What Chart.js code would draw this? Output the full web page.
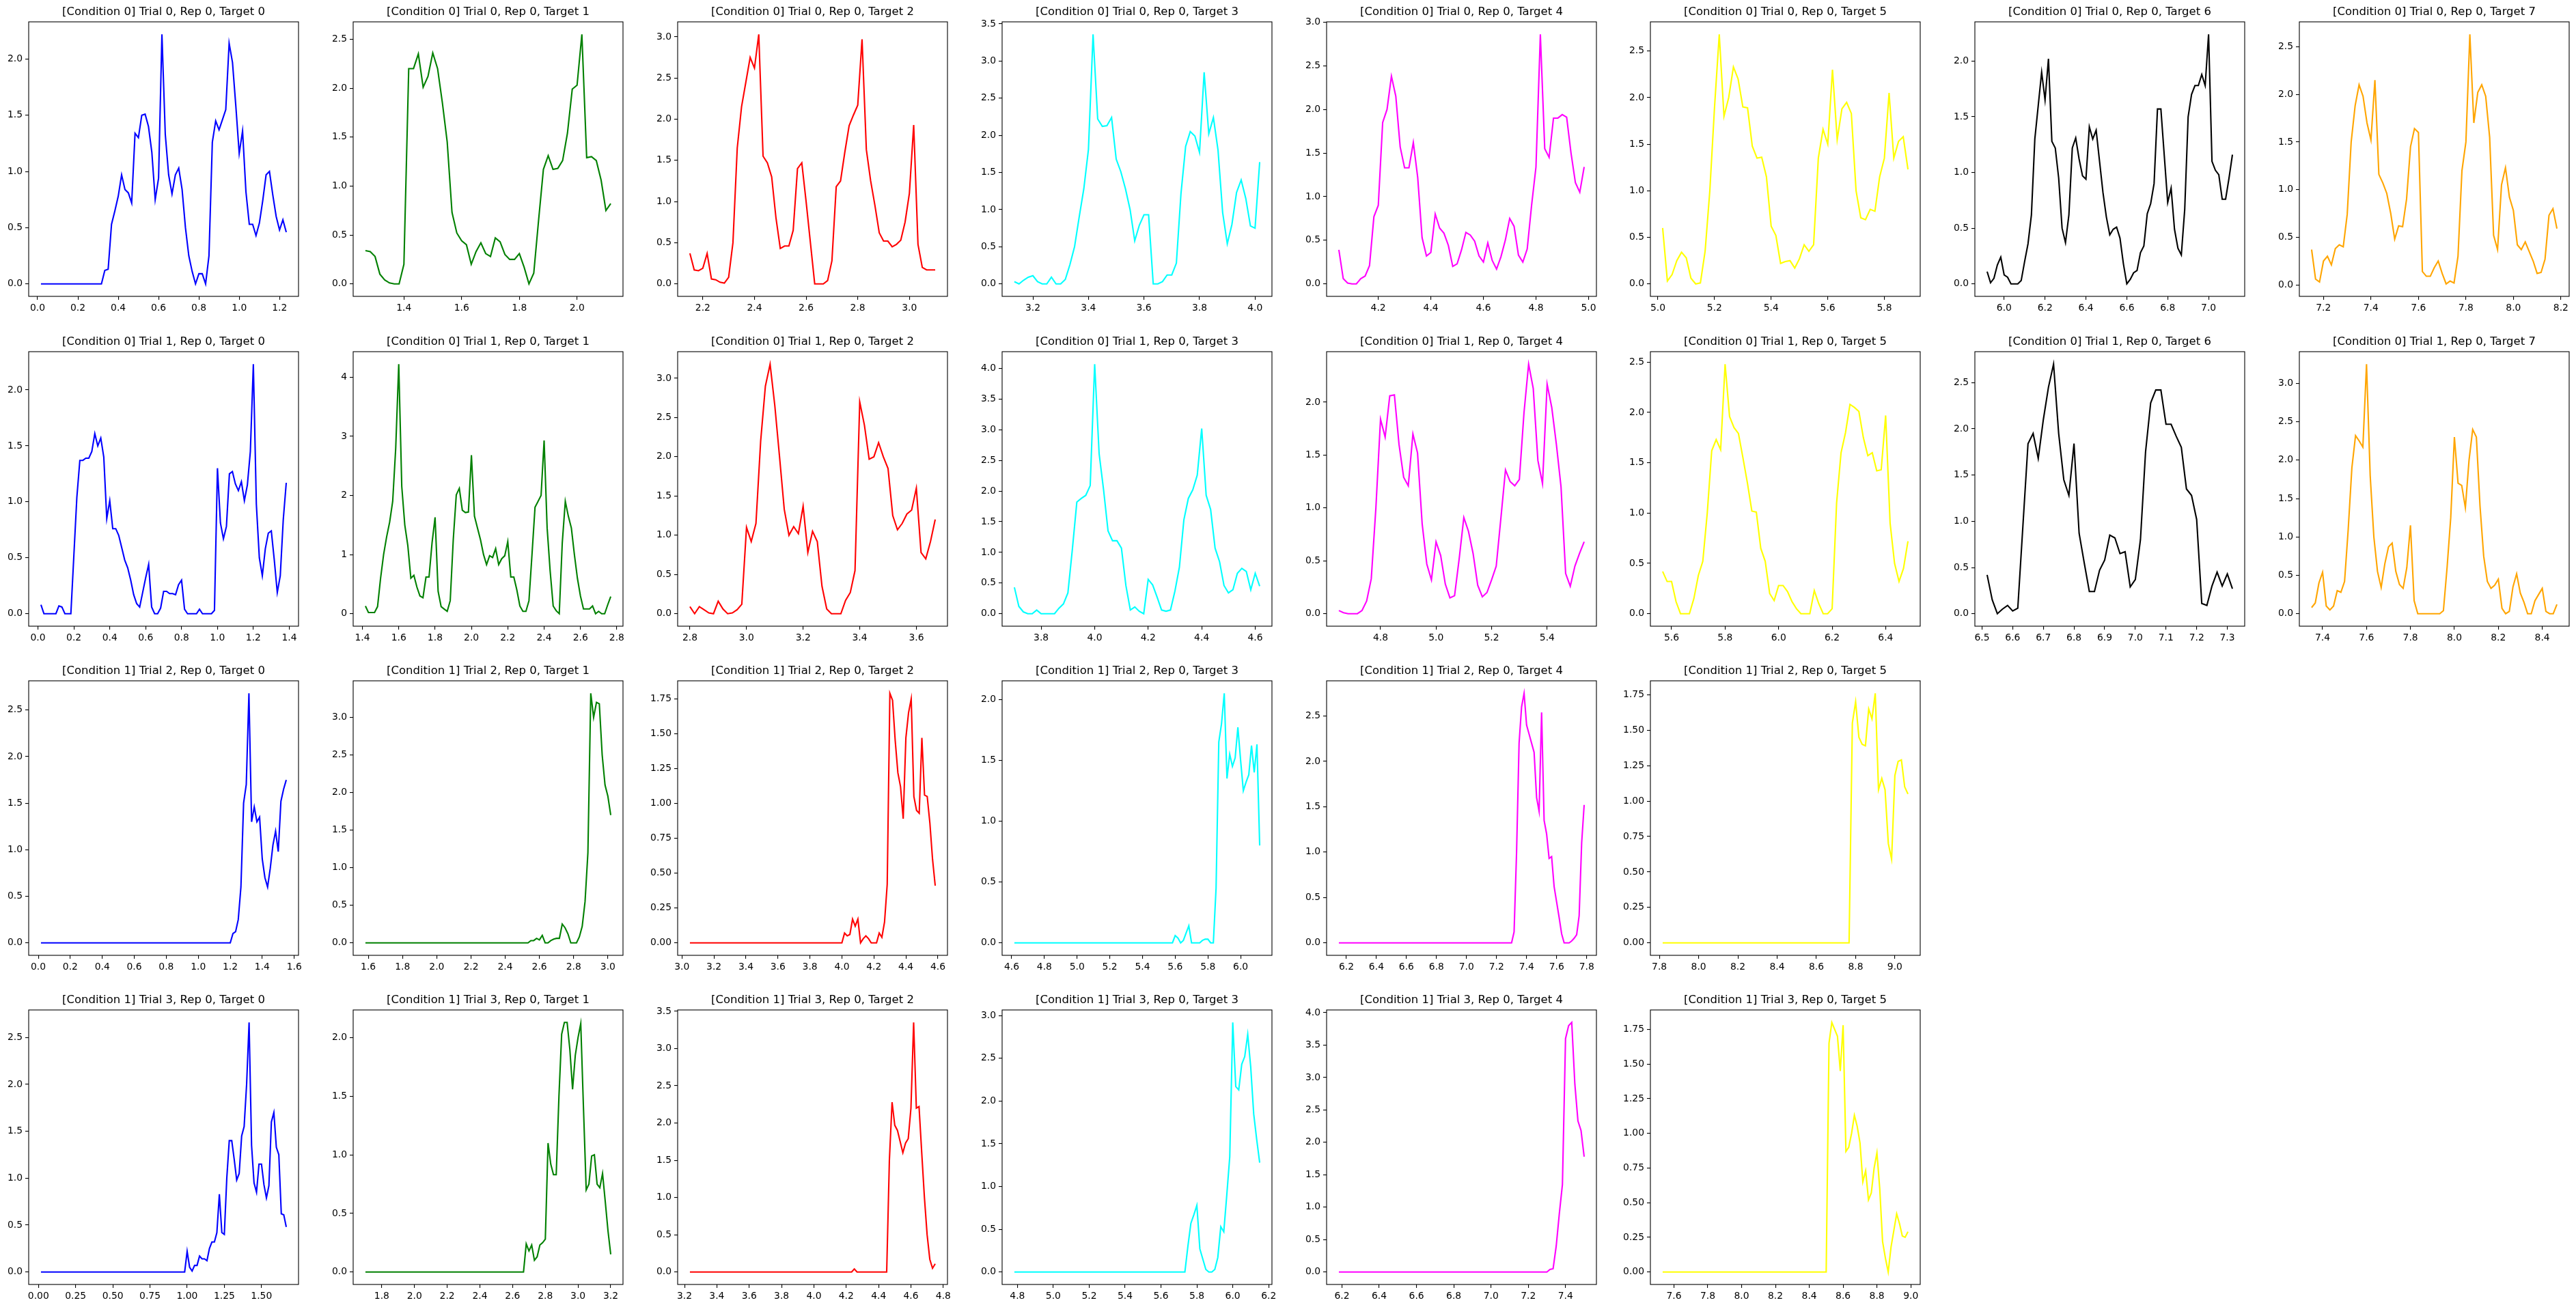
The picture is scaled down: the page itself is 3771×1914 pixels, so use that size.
<!DOCTYPE html>
<html>
<head>
<meta charset="utf-8">
<script src="https://cdn.jsdelivr.net/npm/chart.js@4.4.1/dist/chart.umd.min.js"></script>
<style>
html,body{margin:0;padding:0;background:#fff;}
#fig{position:relative;width:3771px;height:1914px;overflow:hidden;background:#fff;}
#fig canvas{position:absolute;}
</style>
</head>
<body>
<div id="fig"></div>
<script>
// samples are 1/60 s apart; each panel lists its first sample index and the values
const sampleRate = 60;
const conditions = [0, 0, 1, 1];
const trials = [0, 1, 2, 3];
const targetColors = ['#0000ff', '#008000', '#ff0000', '#00ffff', '#ff00ff', '#ffff00', '#000000', '#ffa500'];

const startSamples = [
  [1, 76, 129, 188, 243, 301, 355, 429],
  [1, 85, 168, 222, 279, 334, 391, 441],
  [1, 95, 183, 277, 369, 469],
  [1, 102, 194, 287, 371, 452]
];
const xSteps = [
  [0.2, 0.2, 0.2, 0.2, 0.2, 0.2, 0.2, 0.2],
  [0.2, 0.2, 0.2, 0.2, 0.2, 0.2, 0.1, 0.2],
  [0.2, 0.2, 0.2, 0.2, 0.2, 0.2],
  [0.25, 0.2, 0.2, 0.2, 0.2, 0.2]
];
const ySteps = [
  [0.5, 0.5, 0.5, 0.5, 0.5, 0.5, 0.5, 0.5],
  [0.5, 1, 0.5, 0.5, 0.5, 0.5, 0.5, 0.5],
  [0.5, 0.5, 0.25, 0.5, 0.5, 0.25],
  [0.5, 0.5, 0.5, 0.5, 0.5, 0.25]
];

const cond0Trial0 = [
  [0,0,0,0,0,0,0,0,0,0,0,0,0,0,0,0,0,0,0,
   .12,.13,.53,.65,.78,.97,.84,.81,.72,1.34,1.30,1.50,1.51,1.40,1.17,.75,.94,2.22,1.33,.97,
   .80,.97,1.03,.84,.50,.25,.11,0,.09,.09,0,.25,1.26,1.45,1.37,1.46,1.55,2.14,1.97,1.58,
   1.16,1.36,.82,.53,.53,.43,.54,.74,.97,1.00,.79,.60,.48,.57,.46],
  [.34,.33,.28,.10,.04,.01,0,0,.20,2.20,2.20,2.35,2.01,2.12,2.36,2.20,1.85,1.45,.73,.52,
   .44,.40,.20,.33,.42,.31,.28,.47,.43,.30,.25,.25,.31,.17,0,.11,.65,1.17,1.31,1.17,
   1.18,1.26,1.54,1.99,2.03,2.55,1.29,1.30,1.26,1.06,.75,.82],
  [.37,.17,.16,.19,.37,.06,.05,.02,.01,.08,.50,1.65,2.15,2.45,2.75,2.62,3.03,1.55,1.47,1.30,
   .80,.43,.46,.46,.65,1.40,1.47,1.00,.50,0,0,0,.04,.28,1.18,1.25,1.60,1.92,2.05,2.17,
   2.97,1.63,1.25,.95,.62,.52,.52,.45,.48,.53,.75,1.10,1.93,.48,.20,.17,.17,.17],
  [.03,0,.05,.09,.11,.03,0,0,.09,0,0,.06,.26,.50,.90,1.28,1.81,3.36,2.22,2.12,
   2.13,2.24,1.68,1.51,1.28,1.00,.58,.79,.93,.93,0,0,.03,.12,.12,.28,1.22,1.85,2.05,1.99,
   1.77,2.85,2.02,2.24,1.80,.96,.54,.80,1.23,1.40,1.15,.78,.75,1.64],
  [.39,.06,.01,0,0,.06,.09,.21,.77,.90,1.85,2.00,2.38,2.15,1.57,1.33,1.33,1.62,1.22,.53,
   .32,.36,.80,.64,.58,.44,.20,.23,.39,.59,.56,.49,.32,.25,.47,.27,.17,.31,.50,.75,
   .66,.33,.25,.40,.90,1.34,2.86,1.55,1.45,1.90,1.90,1.94,1.91,1.50,1.16,1.05,1.34],
  [.60,.03,.10,.25,.34,.28,.06,0,.01,.35,1.00,1.90,2.68,1.80,2.00,2.33,2.20,1.90,1.89,1.48,
   1.35,1.36,1.15,.62,.52,.22,.24,.25,.17,.27,.42,.35,.42,1.35,1.66,1.50,2.30,1.55,1.88,1.95,
   1.83,1.00,.71,.69,.80,.78,1.15,1.35,2.05,1.35,1.53,1.58,1.23],
  [.11,.01,.05,.17,.24,.08,.06,0,0,0,.03,.20,.36,.62,1.30,1.60,1.90,1.65,2.02,1.28,
   1.22,.95,.50,.37,.62,1.22,1.31,1.12,.97,.94,1.41,1.30,1.38,1.10,.82,.60,.44,.49,.51,.41,
   .18,0,.04,.10,.12,.28,.34,.63,.72,.90,1.57,1.57,1.15,.73,.86,.49,.32,.26,.67,1.50,
   1.70,1.78,1.78,1.88,1.78,2.24,1.10,1.02,.98,.76,.76,.95,1.16],
  [.37,.06,.03,.25,.30,.21,.38,.42,.40,.74,1.50,1.88,2.10,1.98,1.70,1.52,2.15,1.16,1.07,.96,
   .75,.48,.62,.61,.90,1.45,1.64,1.60,.14,.09,.09,.18,.25,.12,.01,.04,.02,.30,1.20,1.50,
   2.63,1.70,2.02,2.10,1.98,1.55,.52,.37,1.05,1.23,.92,.78,.42,.37,.45,.35,.25,.12,.13,.27,
   .73,.80,.59]
];

const cond0Trial1 = [
  [.08,0,0,0,0,0,.07,.06,0,0,0,.52,1.04,1.37,1.37,1.39,1.39,1.45,1.61,1.50,
   1.57,1.40,.85,1.01,.76,.76,.70,.59,.48,.41,.30,.17,.09,.06,.19,.32,.44,.06,0,0,
   .05,.20,.20,.18,.18,.17,.26,.30,.04,0,0,0,0,.04,0,0,0,0,.03,1.30,
   .81,.67,.78,1.25,1.27,1.16,1.10,1.18,1.01,1.15,1.45,2.23,.98,.50,.34,.58,.72,.74,.48,.19,
   .34,.84,1.17],
  [.13,.02,.02,.02,.12,.60,1.00,1.30,1.55,1.90,2.80,4.22,2.15,1.50,1.15,.60,.65,.45,.30,.27,
   .62,.62,1.20,1.63,.38,.12,.08,.04,.22,1.25,2.01,2.12,1.75,1.71,1.72,2.68,1.65,1.45,1.25,1.00,
   .83,.98,.95,1.10,.83,.93,.98,1.22,.62,.62,.40,.13,.04,.04,.22,1.00,1.80,1.90,2.00,2.93,
   1.45,.72,.13,.05,0,1.20,1.90,1.65,1.45,1.00,.60,.30,.08,.08,.08,.13,0,.04,0,0,
   .15,.29],
  [.09,0,.09,.05,.01,0,.16,.06,0,.01,.05,.12,1.10,.92,1.15,2.20,2.90,3.18,2.65,2.00,
   1.33,1.00,1.11,1.02,1.37,.78,1.05,.92,.35,.06,0,0,0,.17,.27,.55,2.70,2.40,1.97,2.00,
   2.18,2.00,1.85,1.25,1.07,1.15,1.27,1.32,1.60,.78,.70,.92,1.20],
  [.43,.12,.03,0,0,.06,0,0,0,0,.09,.16,.34,1.05,1.82,1.88,1.93,2.09,4.07,2.61,
   2.02,1.35,1.19,1.19,1.07,.46,.06,.11,.04,0,.56,.47,.27,.06,.04,.06,.37,.76,1.53,1.88,
   2.02,2.26,3.02,1.93,1.70,1.07,.85,.46,.34,.39,.66,.74,.69,.39,.66,.45],
  [.03,.01,0,0,0,.03,.12,.33,1.00,1.84,1.67,2.06,2.07,1.60,1.29,1.21,1.70,1.52,.85,.47,
   .32,.68,.55,.28,.15,.17,.52,.91,.78,.57,.27,.16,.20,.32,.45,.90,1.36,1.25,1.21,1.27,
   1.90,2.36,2.13,1.45,1.23,2.17,1.95,1.60,1.20,.38,.26,.45,.57,.68],
  [.42,.32,.32,.12,0,0,0,.15,.38,.52,1.00,1.62,1.73,1.63,2.48,1.96,1.85,1.79,1.55,1.30,
   1.02,1.01,.65,.52,.20,.13,.28,.28,.22,.12,.05,0,0,0,.23,.10,0,0,.05,1.10,
   1.60,1.80,2.08,2.05,2.01,1.75,1.57,1.60,1.42,1.43,1.97,.90,.50,.32,.45,.72],
  [.42,.15,0,.05,.09,.03,.06,.95,1.84,1.95,1.68,2.10,2.45,2.70,1.95,1.45,1.28,1.84,.87,.55,
   .24,.24,.47,.58,.85,.82,.65,.67,.29,.37,.80,1.75,2.28,2.42,2.42,2.05,2.05,1.92,1.80,1.35,
   1.28,1.02,.11,.09,.30,.45,.30,.43,.27],
  [.08,.14,.40,.54,.10,.05,.10,.30,.28,.42,1.10,1.90,2.32,2.25,2.17,3.25,1.80,1.00,.55,.34,
   .65,.87,.92,.55,.38,.33,.60,1.15,.17,0,0,0,0,0,0,0,.04,.60,1.25,2.30,
   1.70,1.67,1.38,2.00,2.40,2.30,1.40,.75,.42,.33,.37,.45,.07,0,.03,.35,.52,.27,.15,0,
   0,.17,.25,.33,.03,0,0,.12]
];

const cond1Trial2 = [
  [0,0,0,0,0,0,0,0,0,0, 0,0,0,0,0,0,0,0,0,0, 0,0,0,0,0,0,0,0,0,0, 0,0,0,0,0,0,0,0,0,0,
   0,0,0,0,0,0,0,0,0,0, 0,0,0,0,0,0,0,0,0,0, 0,0,0,0,0,0,0,0,0,0, 0,0,
   .10,.12,.25,.60,1.50,1.70,2.68,1.30,1.46,1.30,1.35,.90,.70,.60,.80,1.05,1.20,.98,1.52,1.65,1.75],
  [0,0,0,0,0,0,0,0,0,0, 0,0,0,0,0,0,0,0,0,0, 0,0,0,0,0,0,0,0,0,0, 0,0,0,0,0,0,0,0,0,0,
   0,0,0,0,0,0,0,0,0,0, 0,0,0,0,0,0,0,0,
   .03,.03,.06,.04,.10,0,0,.03,.05,.06,.06,.25,.20,.12,0,0,0,.08,.22,.55,1.20,3.32,3.00,3.20,3.18,2.50,2.10,1.95,1.70],
  [0,0,0,0,0,0,0,0,0,0, 0,0,0,0,0,0,0,0,0,0, 0,0,0,0,0,0,0,0,0,0, 0,0,0,0,0,0,0,0,0,0,
   0,0,0,0,0,0,0,0,0,0, 0,0,0,0,0,0,0,0,
   .07,.05,.06,.17,.12,.17,0,.03,.05,.03,0,0,0,.07,.04,.15,.42,1.79,1.74,1.45,
   1.22,1.12,.89,1.47,1.65,1.75,1.05,.95,.93,1.47,1.06,1.05,.86,.60,.41],
  [0,0,0,0,0,0,0,0,0,0, 0,0,0,0,0,0,0,0,0,0, 0,0,0,0,0,0,0,0,0,0, 0,0,0,0,0,0,0,0,0,0,
   0,0,0,0,0,0,0,0,0,0, 0,0,0,0,0,0,0,0,0,
   .06,.04,0,.02,.08,.14,0,0,0,0,.02,.03,.03,0,0,.45,1.65,1.80,2.05,1.35,
   1.55,1.45,1.52,1.77,1.50,1.25,1.32,1.38,1.62,1.40,1.63,.80],
  [0,0,0,0,0,0,0,0,0,0, 0,0,0,0,0,0,0,0,0,0, 0,0,0,0,0,0,0,0,0,0, 0,0,0,0,0,0,0,0,0,0,
   0,0,0,0,0,0,0,0,0,0, 0,0,0,0,0,0,0,0,0,0, 0,0,0,0,0,0,0,0,0,0,
   .12,1.00,2.20,2.60,2.75,2.40,2.30,2.20,2.10,1.60,1.45,2.54,1.35,1.20,.93,.95,.62,.45,.28,.10,
   0,0,0,.02,.05,.09,.30,1.10,1.52],
  [0,0,0,0,0,0,0,0,0,0, 0,0,0,0,0,0,0,0,0,0, 0,0,0,0,0,0,0,0,0,0, 0,0,0,0,0,0,0,0,0,0,
   0,0,0,0,0,0,0,0,0,0, 0,0,0,0,0,0,0,0,
   1.55,1.70,1.45,1.40,1.39,1.65,1.58,1.76,1.08,1.16,1.08,.70,.59,1.18,1.28,1.29,1.10,1.05]
];

const cond1Trial3 = [
  [0,0,0,0,0,0,0,0,0,0, 0,0,0,0,0,0,0,0,0,0, 0,0,0,0,0,0,0,0,0,0, 0,0,0,0,0,0,0,0,0,0,
   0,0,0,0,0,0,0,0,0,0, 0,0,0,0,0,0,0,0,0,
   .22,.05,.01,.07,.07,.17,.14,.14,.12,.25,.32,.32,.42,.83,.42,.40,1.00,1.40,1.40,1.20,
   .98,1.05,1.45,1.55,2.00,2.66,1.35,.95,.85,1.15,1.15,.93,.79,.92,1.60,1.70,1.33,1.25,.62,.61,.48],
  [0,0,0,0,0,0,0,0,0,0, 0,0,0,0,0,0,0,0,0,0, 0,0,0,0,0,0,0,0,0,0, 0,0,0,0,0,0,0,0,0,0,
   0,0,0,0,0,0,0,0,0,0, 0,0,0,0,0,0,0,0,0,
   .24,.18,.23,.10,.13,.23,.25,.28,1.10,.92,.83,.83,1.50,2.03,2.13,2.13,1.90,1.56,1.85,2.00,
   2.12,1.40,.70,.75,.99,1.00,.75,.72,.84,.60,.35,.15],
  [0,0,0,0,0,0,0,0,0,0, 0,0,0,0,0,0,0,0,0,0, 0,0,0,0,0,0,0,0,0,0, 0,0,0,0,0,0,0,0,0,0,
   0,0,0,0,0,0,0,0,0,0, 0,0,0,0,0,0,0,0,0,0, 0,
   .04, 0,0,0,0,0,0,0,0,0,0,0,0,
   1.50,2.28,1.97,1.90,1.75,1.60,1.73,1.79,2.20,3.35,2.20,2.22,1.60,1.00,.50,.17,.05,.11],
  [0,0,0,0,0,0,0,0,0,0, 0,0,0,0,0,0,0,0,0,0, 0,0,0,0,0,0,0,0,0,0, 0,0,0,0,0,0,0,0,0,0,
   0,0,0,0,0,0,0,0,0,0, 0,0,0,0,0,0,0,0,
   .30,.57,.67,.78,.27,.15,.03,0,0,.03,.17,.53,.47,.90,1.35,2.92,2.17,2.13,2.43,2.52,
   2.78,2.40,1.85,1.55,1.28],
  [0,0,0,0,0,0,0,0,0,0, 0,0,0,0,0,0,0,0,0,0, 0,0,0,0,0,0,0,0,0,0, 0,0,0,0,0,0,0,0,0,0,
   0,0,0,0,0,0,0,0,0,0, 0,0,0,0,0,0,0,0,0,0, 0,0,0,0,0,0,0,0,
   .04,.05,.40,.90,1.35,3.60,3.80,3.85,2.90,2.33,2.18,1.78],
  [0,0,0,0,0,0,0,0,0,0, 0,0,0,0,0,0,0,0,0,0, 0,0,0,0,0,0,0,0,0,0, 0,0,0,0,0,0,0,0,0,0,
   0,0,0,0,0,0,0,0,0,0, 0,0,0,0,0,0,0,0,0,
   1.65,1.80,1.75,1.70,1.45,1.78,.87,.90,1.00,1.13,1.05,.93,.65,.73,.52,.57,.75,.86,.60,.22,
   .10,0,.18,.30,.42,.35,.26,.25,.29]
];

const rowSeries = [cond0Trial0, cond0Trial1, cond1Trial2, cond1Trial3];

// layout of the grid (pixels)
const AX_L = 42.4, AX_T = 32.3, COL_STEP = 474.8, ROW_STEP = 482.2, AX_W = 395, AX_H = 402;
const YW = 70, TH = 23, XH = 40, RP = 26;
const FONT = 'DejaVu Sans';

function limits(vals) {
  const lo = Math.min(...vals), hi = Math.max(...vals), m = (hi - lo) * 0.05;
  return [lo - m, hi + m];
}
function decimals(step) {
  const s = String(step);
  return s.includes('.') ? s.split('.')[1].length : 0;
}
function tickValues(min, max, step) {
  const out = [];
  for (let n = Math.ceil(min / step - 1e-9); n * step <= max + 1e-9; n++) {
    out.push(Math.round(n * step * 1e6) / 1e6);
  }
  return out;
}

const frame = {
  id: 'frame',
  afterDatasetsDraw(chart) {
    const a = chart.chartArea, c = chart.ctx;
    c.save();
    c.strokeStyle = '#000';
    c.lineWidth = 1.1;
    c.strokeRect(a.left, a.top, a.right - a.left, a.bottom - a.top);
    c.restore();
  }
};

function axis(min, max, step, fit) {
  const d = decimals(step);
  const vals = tickValues(min, max, step);
  return {
    type: 'linear', min: min, max: max, bounds: 'data', afterFit: fit,
    afterBuildTicks: s => { s.ticks = vals.map(v => ({value: v})); },
    grid: {display: true, drawOnChartArea: false, drawTicks: true, tickLength: 5, color: '#000', lineWidth: 1.1},
    border: {display: false},
    ticks: {autoSkip: false, maxRotation: 0, color: '#000',
            padding: 4, font: {family: FONT, size: 13.9}, callback: v => Number(v).toFixed(d)}
  };
}

const fig = document.getElementById('fig');
rowSeries.forEach((series, r) => {
  series.forEach((vals, c) => {
    const start = startSamples[r][c];
    const pts = vals.map((v, k) => ({x: (start + k) / sampleRate, y: v}));
    const [x0, x1] = limits(pts.map(p => p.x));
    const [y0, y1] = limits(vals);
    const cv = document.createElement('canvas');
    const left = Math.round(AX_L + c * COL_STEP) - YW;
    const top = Math.round(AX_T + r * ROW_STEP) - TH;
    cv.width = YW + AX_W + RP;
    cv.height = TH + AX_H + XH;
    cv.style.left = left + 'px';
    cv.style.top = top + 'px';
    fig.appendChild(cv);
    const title = `[Condition ${conditions[r]}] Trial ${trials[r]}, Rep 0, Target ${c}`;
    new Chart(cv, {
      type: 'line',
      data: {datasets: [{data: pts, borderColor: targetColors[c], borderWidth: 2.1, pointRadius: 0, tension: 0, fill: false}]},
      options: {
        responsive: false, animation: false, devicePixelRatio: 1,
        layout: {padding: {left: 0, right: RP, top: 0, bottom: 0}},
        plugins: {
          legend: {display: false}, tooltip: {enabled: false},
          title: {display: true, text: title, color: '#000', fullSize: false,
                  font: {family: FONT, size: 16.5, weight: 'normal', lineHeight: 1},
                  padding: {top: 0, bottom: 6.5}}
        },
        scales: {
          x: axis(x0, x1, xSteps[r][c], s => { s.height = XH; }),
          y: axis(y0, y1, ySteps[r][c], s => { s.width = YW; })
        }
      },
      plugins: [frame]
    });
  });
});
</script>
</body>
</html>
